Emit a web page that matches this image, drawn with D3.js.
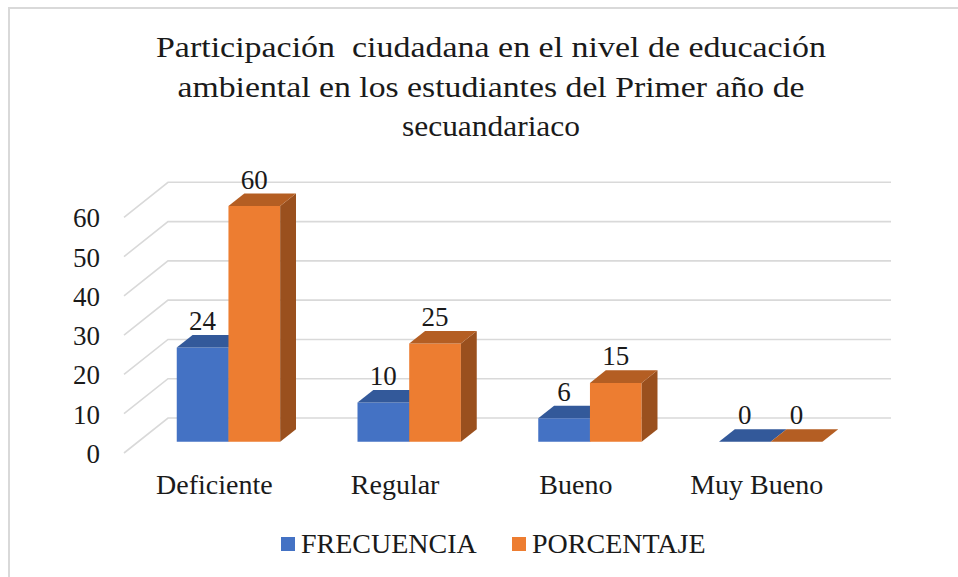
<!DOCTYPE html>
<html>
<head>
<meta charset="utf-8">
<script src="https://cdn.jsdelivr.net/npm/d3@7"></script>
<style>
  html, body { margin: 0; padding: 0; background: #fff; }
  svg { display: block; }
  text { fill: #1a1a1a; white-space: pre; }
</style>
</head>
<body>
<script>
// ---- data ----
const titleLines = [
  "Participación  ciudadana en el nivel de educación",
  "ambiental en los estudiantes del Primer año de",
  "secuandariaco"
];
const categories = ["Deficiente", "Regular", "Bueno", "Muy Bueno"];
const seriesNames = ["FRECUENCIA", "PORCENTAJE"];
const frecuencia = [24, 10, 6, 0];
const porcentaje = [60, 25, 15, 0];
const yTicks = [0, 10, 20, 30, 40, 50, 60];

const seriesValues = [frecuencia, porcentaje];
const colors = [
  { front: "#4472c4", top: "#33599a", side: "#2e5290" },
  { front: "#ed7d31", top: "#b45e23", side: "#9a501e" }
];
const titleWidths = [670, 627, 178];

const W = 958, H = 577;
const svg = d3.select("body").append("svg").attr("width", W).attr("height", H)
  .attr("font-family", "'Liberation Serif', 'Times New Roman', 'DejaVu Serif', serif");

// chart border
svg.append("rect").attr("x", 9).attr("y", 8).attr("width", 970).attr("height", 600)
  .attr("fill", "none").attr("stroke", "#d9d9d9").attr("stroke-width", 2);

// title
const title = svg.append("g").attr("font-size", 30);
titleLines.forEach((l, i) => {
  title.append("text").attr("x", 491).attr("y", 57 + i * 39.7)
    .attr("text-anchor", "middle")
    .attr("textLength", titleWidths[i]).attr("lengthAdjust", "spacingAndGlyphs")
    .text(l);
});

// scales (front plane)
const x0 = d3.scaleBand().domain(categories).range([124, 847]).padding(0);
const x1 = d3.scaleBand().domain(seriesNames).range([0, x0.bandwidth()]).paddingInner(0).paddingOuter(0.748);
const y = d3.scaleLinear().domain([0, 60]).range([453, 217.3]);
const DX = 44, DY = -35; // full depth offset
const d0 = 0.32, d1 = 0.68; // bar depth range
const P = (x, v, d) => [x + DX * d, y(v) + DY * d];

// gridlines: side wall diagonals + back wall horizontals
const grid = svg.append("g").attr("stroke", "#d9d9d9").attr("stroke-width", 1.6).attr("fill", "none");
yTicks.forEach(t => {
  const a = P(124, t, 0), b = P(124, t, 1), c = P(847, t, 1);
  grid.append("path").attr("d", `M${a}L${b}L${c}`);
});

// y axis labels
svg.append("g").selectAll("text").data(yTicks).join("text")
  .attr("x", 100).attr("y", d => y(d) + 10)
  .attr("text-anchor", "end").attr("font-size", 27).text(d => d);

// bars
const barsG = svg.append("g");
categories.forEach((cat, ci) => {
  seriesNames.forEach((s, si) => {
    const v = seriesValues[si][ci];
    const xl = x0(cat) + x1(s), xr = xl + x1.bandwidth();
    const col = colors[si];
    const pt = (x, val, d) => P(x, val, d).join(",");
    if (v > 0) {
      barsG.append("path").attr("fill", col.front)
        .attr("d", `M${pt(xl,0,d0)}L${pt(xr,0,d0)}L${pt(xr,v,d0)}L${pt(xl,v,d0)}Z`);
      barsG.append("path").attr("fill", col.side)
        .attr("d", `M${pt(xr,0,d0)}L${pt(xr,0,d1)}L${pt(xr,v,d1)}L${pt(xr,v,d0)}Z`);
    }
    barsG.append("path").attr("fill", col.top)
      .attr("d", `M${pt(xl,v,d0)}L${pt(xr,v,d0)}L${pt(xr,v,d1)}L${pt(xl,v,d1)}Z`);
    const lx = (xl + xr) / 2 + DX * d0;
    const ly = y(v) + DY * d1 - 5;
    svg.append("text").attr("x", lx).attr("y", ly).attr("text-anchor", "middle")
      .attr("font-size", 27).text(v);
  });
});

// category labels
svg.append("g").selectAll("text").data(categories).join("text")
  .attr("x", d => x0(d) + x0.bandwidth() / 2).attr("y", 494)
  .attr("text-anchor", "middle").attr("font-size", 28).text(d => d);

// legend
const legendX = [281, 512];
const lg = svg.append("g");
seriesNames.forEach((s, i) => {
  lg.append("rect").attr("x", legendX[i]).attr("y", 537).attr("width", 14).attr("height", 14)
    .attr("fill", colors[i].front);
  lg.append("text").attr("x", legendX[i] + 20).attr("y", 553).attr("font-size", 28).text(s);
});
</script>
</body>
</html>
